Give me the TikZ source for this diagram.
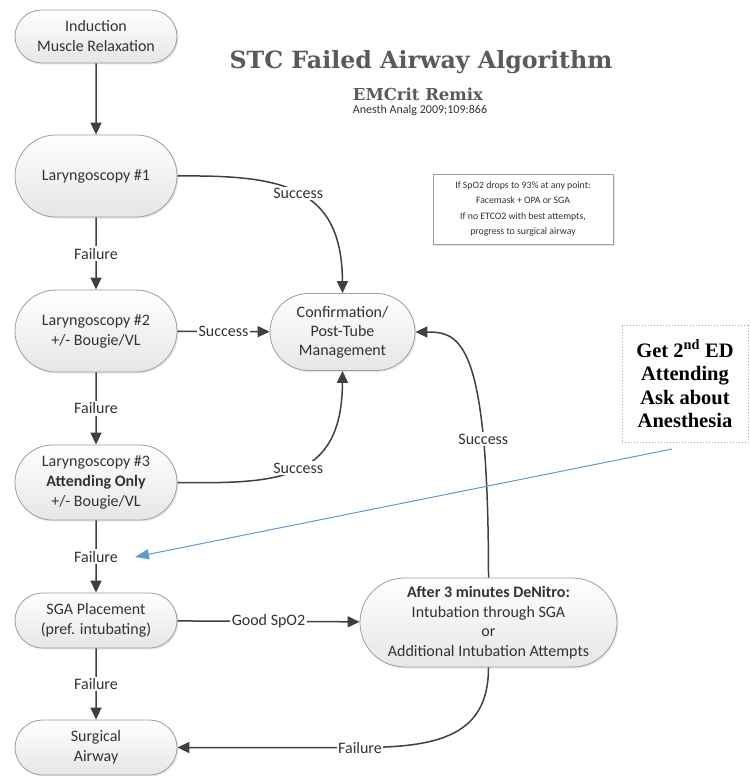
\documentclass[tikz,border=0pt]{standalone}
\usepackage{fontspec}
\setmainfont{Carlito}
\newfontfamily\slabfont{DejaVu Serif}
\newfontfamily\edfont{Liberation Serif}
\usetikzlibrary{arrows.meta,shapes.misc,shadows}
\definecolor{edgegray}{HTML}{404040}
\definecolor{bordergray}{HTML}{9E9E9E}
\definecolor{txtgray}{HTML}{333333}
\definecolor{fillbot}{HTML}{E6E6E6}
\definecolor{bluearrow}{HTML}{5B9BD5}
\definecolor{titlegray}{HTML}{5A5A5A}
\begin{document}
\begin{tikzpicture}[x=1pt,y=-1pt,
 flow/.style={rounded rectangle, draw=bordergray, line width=0.8pt, top color=white, bottom color=fillbot, align=center, inner sep=0pt, text=txtgray, font=\fontsize{16}{20}\selectfont, drop shadow={opacity=0.18, shadow xshift=1.5pt, shadow yshift=-1.5pt}},
 conn/.style={draw=edgegray, line width=1.5pt, -{Triangle[length=12pt,width=11pt]}},
 lbl/.style={fill=white, inner sep=1.5pt, text=txtgray, font=\fontsize{16}{18}\selectfont},
]
\fill[white] (0,0) rectangle (751,776);
\useasboundingbox (0,0) rectangle (751,776);

\node[flow, minimum width=162pt, minimum height=53pt] (ind) at (96,36.5) {Induction\\Muscle Relaxation};
\node[flow, minimum width=162pt, minimum height=82pt] (l1) at (96,176) {Laryngoscopy \#1};
\node[flow, minimum width=162pt, minimum height=82pt] (l2) at (96,331) {Laryngoscopy \#2\\+/- Bougie/VL};
\node[flow, minimum width=162pt, minimum height=75pt] (l3) at (96,482.5) {Laryngoscopy \#3\\\textbf{Attending Only}\\+/- Bougie/VL};
\node[flow, minimum width=162pt, minimum height=55pt] (sga) at (96,620.5) {SGA Placement\\(pref. intubating)};
\node[flow, minimum width=162pt, minimum height=55pt] (surg) at (96,747.5) {Surgical\\Airway};
\node[flow, minimum width=145pt, minimum height=77pt, font=\fontsize{16}{19}\selectfont] (conf) at (342.5,332) {Confirmation/\\Post-Tube\\Management};
\node[flow, minimum width=257pt, minimum height=89pt, font=\fontsize{16}{19.5}\selectfont] (after) at (488.5,622.5) {\textbf{After 3 minutes DeNitro:}\\Intubation through SGA\\or\\Additional Intubation Attempts};

\node[draw=bordergray, fill=white, line width=0.6pt, minimum width=180pt, minimum height=70pt, align=center, inner sep=0pt, text=txtgray, font=\fontsize{9.8}{15.2}\selectfont, drop shadow={opacity=0.2, shadow xshift=1.5pt, shadow yshift=-1.5pt}] (info) at (523,209) {If SpO2 drops to 93\% at any point:\\Facemask + OPA or SGA\\If no ETCO2 with best attempts,\\progress to surgical airway};

\node[draw=gray!70, dotted, line width=1pt, minimum width=126pt, minimum height=117pt, align=center, inner sep=0pt, font=\edfont\bfseries\fontsize{20.5}{23.5}\selectfont] (ed) at (685,384) {Get 2\textsuperscript{nd} ED\\Attending\\Ask about\\Anesthesia};

\node[font=\slabfont\bfseries\fontsize{23.7}{28}\selectfont, text=titlegray] (title) at (421,62) {STC Failed Airway Algorithm};
\node[font=\slabfont\bfseries\fontsize{16.5}{18}\selectfont, text=titlegray] (sub) at (418,94) {EMCrit Remix};
\node[font=\fontsize{12}{14}\selectfont, text=txtgray] (cite) at (420,110) {Anesth Analg 2009;109:866};

\draw[conn] (ind) -- (l1);
\draw[conn] (l1) -- node[lbl]{Failure} (l2);
\draw[conn] (l2) -- node[lbl]{Failure} (l3);
\draw[conn] (l3) -- node[lbl]{Failure} (sga);
\draw[conn] (sga) -- node[lbl]{Failure} (surg);
\draw[conn] (l2) -- node[lbl]{Success} (conf);
\draw[conn] (l1.east) .. controls (280,175) and (342,185) .. node[lbl,pos=0.5]{Success} (conf.north);
\draw[conn] (l3.east) .. controls (280,484) and (342,480) .. node[lbl]{Success} (conf.south);
\draw[conn] (after.north) .. controls (488.5,340) and (460,332) .. node[lbl,pos=0.25]{Success} (conf.east);
\draw[conn] (sga) -- node[lbl]{Good SpO2} (after);
\draw[conn] (after.south) .. controls (488.5,735) and (440,747.5) .. (360,747.5) node[lbl]{Failure} -- (surg.east);

\coordinate (bstart) at (672,449);
\coordinate (bend) at (135,557);
\draw[bluearrow, line width=1pt, -{Triangle[length=14pt,width=10pt]}] (bstart) -- (bend);
\end{tikzpicture}
\end{document}
